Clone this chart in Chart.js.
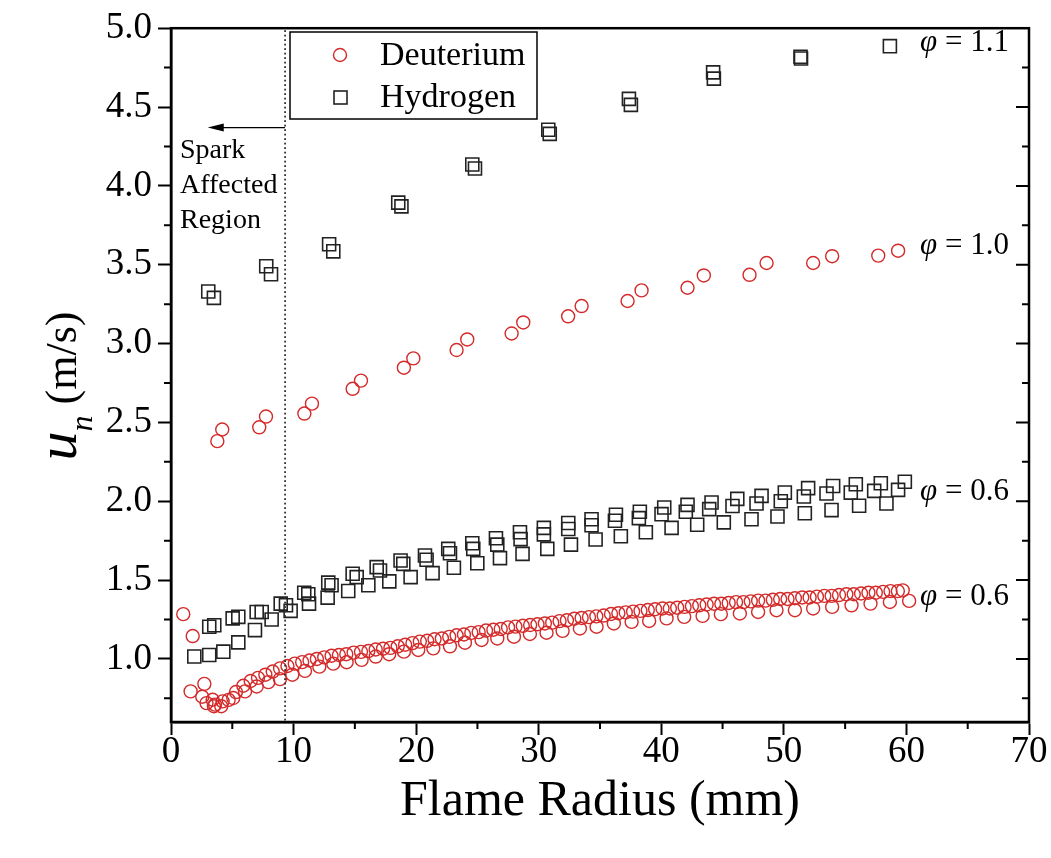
<!DOCTYPE html>
<html>
<head>
<meta charset="utf-8">
<title>Flame speed vs flame radius</title>
<script src="https://cdn.jsdelivr.net/npm/chart.js@4.4.0/dist/chart.umd.min.js"></script>
<style>
  body { margin: 0; background: #fff; }
  canvas { display: block; }
</style>
</head>
<body>
<canvas id="chart" width="1051" height="858"></canvas>
<script>
// axis ticks
var xTicks = [0, 10, 20, 30, 40, 50, 60, 70];
var yTicks = [1.0, 1.5, 2.0, 2.5, 3.0, 3.5, 4.0, 4.5, 5.0];

// Hydrogen, phi = 1.1
var h11X = [3.04, 3.5, 7.77, 8.16, 12.9, 13.24, 18.54, 18.8, 24.58, 24.8, 30.78, 30.9, 37.36, 37.52, 44.23, 44.29, 51.36, 51.4, 58.65];
var h11Y = [3.33, 3.29, 3.49, 3.44, 3.63, 3.585, 3.894, 3.87, 4.136, 4.11, 4.356, 4.33, 4.552, 4.514, 4.72, 4.68, 4.819, 4.808, 4.886];

// Deuterium, phi = 1.0
var d10X = [3.78, 4.18, 7.2, 7.75, 10.88, 11.5, 14.82, 15.5, 19.0, 19.77, 23.3, 24.17, 27.79, 28.74, 32.4, 33.5, 37.25, 38.39, 42.14, 43.47, 47.2, 48.59, 52.39, 53.94, 57.7, 59.32];
var d10Y = [2.381, 2.455, 2.469, 2.537, 2.556, 2.619, 2.713, 2.765, 2.847, 2.906, 2.959, 3.026, 3.064, 3.134, 3.173, 3.238, 3.27, 3.337, 3.354, 3.432, 3.436, 3.511, 3.511, 3.554, 3.558, 3.589];

// Hydrogen, phi = 0.6 (lower run)
var h06aX = [1.9, 3.12, 4.27, 5.49, 6.85, 8.21, 9.76, 11.26, 12.78, 14.46, 16.1, 17.81, 19.55, 21.34, 23.08, 24.99, 26.84, 28.68, 30.7, 32.63, 34.64, 36.7, 38.74, 40.84, 42.93, 45.1, 47.36, 49.48, 51.71, 53.89, 56.14, 58.37];
var h06aY = [1.015, 1.025, 1.046, 1.105, 1.183, 1.25, 1.305, 1.351, 1.389, 1.431, 1.467, 1.492, 1.519, 1.544, 1.578, 1.607, 1.639, 1.666, 1.698, 1.725, 1.757, 1.778, 1.803, 1.831, 1.851, 1.866, 1.886, 1.903, 1.924, 1.944, 1.971, 1.986];
// Hydrogen, phi = 0.6 (upper runs)
var h06bX = [3.12, 5.03, 6.99, 8.95, 10.87, 12.83, 14.82, 16.78, 18.73, 20.72, 22.62, 24.58, 26.51, 28.47, 30.42, 32.41, 34.31, 36.3, 38.25, 40.24, 42.14, 44.1, 46.2, 48.18, 50.08, 51.98, 54.02, 55.87, 57.91, 59.87];
var h06bY = [1.204, 1.257, 1.298, 1.351, 1.42, 1.484, 1.54, 1.582, 1.624, 1.656, 1.698, 1.734, 1.765, 1.803, 1.831, 1.862, 1.886, 1.914, 1.933, 1.96, 1.977, 1.992, 2.015, 2.034, 2.055, 2.083, 2.097, 2.108, 2.114, 2.124];
var h06cX = [3.53, 5.49, 7.4, 9.38, 11.2, 13.1, 15.15, 17.05, 18.95, 20.85, 22.76, 24.66, 26.62, 28.52, 30.42, 32.41, 34.31, 36.22, 38.17, 40.02, 42.0, 43.91, 45.81, 47.77, 49.75, 51.63, 53.48, 55.46, 57.37, 59.32];
var h06cY = [1.214, 1.267, 1.298, 1.34, 1.41, 1.467, 1.519, 1.561, 1.603, 1.629, 1.67, 1.698, 1.725, 1.76, 1.79, 1.824, 1.848, 1.876, 1.893, 1.918, 1.933, 1.95, 1.97, 1.986, 2.0, 2.03, 2.049, 2.055, 2.066, 2.072];

// Deuterium, phi = 0.6 (early points + lower run)
var d06aX = [1.0, 1.77, 1.6, 2.55, 2.72, 3.4, 3.59, 4.21, 5.08, 6.04, 6.99, 7.94, 8.89, 9.9, 10.93, 12.1, 13.24, 14.33, 15.55, 16.7, 17.8, 19.0, 20.17, 21.4, 22.76, 23.98, 25.34, 26.62, 27.98, 29.28, 30.64, 31.95, 33.36, 34.72, 36.13, 37.58, 39.01, 40.43, 41.87, 43.37, 44.86, 46.41, 47.9, 49.4, 50.9, 52.39, 53.94, 55.52, 57.07, 58.65, 60.22];
var d06aY = [1.284, 1.145, 0.794, 0.76, 0.842, 0.741, 0.71, 0.731, 0.752, 0.794, 0.825, 0.853, 0.872, 0.9, 0.924, 0.951, 0.97, 0.979, 0.994, 1.015, 1.03, 1.046, 1.057, 1.067, 1.08, 1.103, 1.12, 1.13, 1.141, 1.158, 1.166, 1.178, 1.193, 1.204, 1.225, 1.235, 1.241, 1.257, 1.267, 1.273, 1.284, 1.288, 1.298, 1.309, 1.309, 1.32, 1.33, 1.34, 1.351, 1.361, 1.368];
// Deuterium, phi = 0.6 (dense upper run)
var d06bX = [2.9, 3.5, 4.1, 4.7, 5.3, 5.9, 6.5, 7.1, 7.7, 8.3, 8.9, 9.5, 10.1, 10.7, 11.3, 11.9, 12.5, 13.1, 13.7, 14.3, 14.9, 15.5, 16.1, 16.7, 17.3, 17.9, 18.5, 19.1, 19.7, 20.3, 20.9, 21.5, 22.1, 22.7, 23.3, 23.9, 24.5, 25.1, 25.7, 26.3, 26.9, 27.5, 28.1, 28.7, 29.3, 29.9, 30.5, 31.1, 31.7, 32.3, 32.9, 33.5, 34.1, 34.7, 35.3, 35.9, 36.5, 37.1, 37.7, 38.3, 38.9, 39.5, 40.1, 40.7, 41.3, 41.9, 42.5, 43.1, 43.7, 44.3, 44.9, 45.5, 46.1, 46.7, 47.3, 47.9, 48.5, 49.1, 49.7, 50.3, 50.9, 51.5, 52.1, 52.7, 53.3, 53.9, 54.5, 55.1, 55.7, 56.3, 56.9, 57.5, 58.1, 58.7, 59.3, 59.7];
var d06bY = [0.72, 0.70, 0.70, 0.74, 0.79, 0.83, 0.86, 0.88, 0.90, 0.92, 0.94, 0.955, 0.97, 0.98, 0.99, 1.0, 1.01, 1.02, 1.025, 1.03, 1.04, 1.045, 1.05, 1.06, 1.065, 1.07, 1.08, 1.09, 1.1, 1.11, 1.115, 1.125, 1.13, 1.14, 1.15, 1.155, 1.165, 1.17, 1.18, 1.185, 1.19, 1.2, 1.205, 1.21, 1.215, 1.22, 1.225, 1.23, 1.24, 1.245, 1.255, 1.26, 1.265, 1.27, 1.275, 1.285, 1.29, 1.295, 1.3, 1.305, 1.31, 1.315, 1.32, 1.32, 1.325, 1.33, 1.335, 1.34, 1.345, 1.35, 1.35, 1.355, 1.36, 1.36, 1.365, 1.37, 1.37, 1.375, 1.38, 1.38, 1.385, 1.39, 1.39, 1.395, 1.4, 1.4, 1.405, 1.41, 1.41, 1.415, 1.42, 1.42, 1.425, 1.43, 1.43, 1.435];

var sparkX = 9.3;
var red = '#d42a2a';
var dark = '#222222';
var serif = '"Liberation Serif", "Times New Roman", serif';

function pts(xs, ys) {
    var out = [];
    for (var i = 0; i < xs.length; i++) out.push({ x: xs[i], y: ys[i] });
    return out;
}

function deut(label, xs, ys) {
    return { label: label, data: pts(xs, ys), pointStyle: 'circle', pointRadius: 6.5,
             borderColor: red, backgroundColor: 'rgba(0,0,0,0)', borderWidth: 1.4 };
}
function hyd(label, xs, ys) {
    return { label: label, data: pts(xs, ys), pointStyle: 'rect', pointRadius: 9.2,
             borderColor: dark, backgroundColor: 'rgba(0,0,0,0)', borderWidth: 1.6 };
}

// frame, minor ticks, annotations, legend and axis titles
var extras = {
    id: 'extras',
    afterDraw: function (chart) {
        var ctx = chart.ctx, a = chart.chartArea;
        var xs = chart.scales.x, ys = chart.scales.y;
        ctx.save();
        ctx.strokeStyle = '#000';
        ctx.lineWidth = 2.5;
        ctx.strokeRect(a.left, a.top, a.right - a.left, a.bottom - a.top);

        ctx.lineWidth = 2;
        ctx.beginPath();
        for (var v = 0.75; v < 5; v += 0.5) {
            var py = ys.getPixelForValue(v);
            ctx.moveTo(a.left, py); ctx.lineTo(a.left - 7, py);
        }
        for (var v2 = 0.75; v2 < 5; v2 += 0.25) {
            var py2 = ys.getPixelForValue(v2);
            var major = Math.abs(v2 * 2 - Math.round(v2 * 2)) < 1e-6;
            ctx.moveTo(a.right, py2); ctx.lineTo(a.right - (major ? 13 : 7), py2);
        }
        for (var u = 5; u < 70; u += 10) {
            var px = xs.getPixelForValue(u);
            ctx.moveTo(px, a.bottom); ctx.lineTo(px, a.bottom + 7);
        }
        ctx.stroke();

        // spark region marker
        var sx = xs.getPixelForValue(sparkX);
        ctx.fillStyle = '#333';
        for (var dy = a.top + 2; dy < a.bottom; dy += 4.5) {
            ctx.fillRect(sx - 0.8, dy, 1.8, 1.8);
        }
        var ay = ys.getPixelForValue(4.37);
        var ax = xs.getPixelForValue(3.0);
        ctx.lineWidth = 1.3;
        ctx.strokeStyle = '#000';
        ctx.beginPath(); ctx.moveTo(sx, ay); ctx.lineTo(ax + 10, ay); ctx.stroke();
        ctx.fillStyle = '#000';
        ctx.beginPath(); ctx.moveTo(ax, ay); ctx.lineTo(ax + 16, ay - 4); ctx.lineTo(ax + 16, ay + 4); ctx.closePath(); ctx.fill();

        ctx.font = '28px ' + serif;
        ctx.textAlign = 'left';
        ctx.textBaseline = 'middle';
        ctx.fillText('Spark', 180, 151);
        ctx.fillText('Affected', 180, 186);
        ctx.fillText('Region', 180, 221);

        // legend
        ctx.lineWidth = 1.5;
        ctx.strokeStyle = '#000';
        ctx.strokeRect(290, 32, 247, 87);
        ctx.strokeStyle = red;
        ctx.lineWidth = 1.4;
        ctx.beginPath(); ctx.arc(340, 55, 6.5, 0, Math.PI * 2); ctx.stroke();
        ctx.strokeStyle = dark;
        ctx.lineWidth = 1.6;
        ctx.strokeRect(334, 91, 13, 13);
        ctx.font = '34px ' + serif;
        ctx.fillStyle = '#000';
        ctx.fillText('Deuterium', 380, 56);
        ctx.fillText('Hydrogen', 380, 98);

        // phi labels
        function phi(txt, x, y) {
            ctx.font = 'italic 31px ' + serif;
            ctx.fillText('φ', x, y);
            var w = ctx.measureText('φ').width;
            ctx.font = '31px ' + serif;
            ctx.fillText(' = ' + txt, x + w, y);
        }
        phi('1.1', 920, 43);
        phi('1.0', 920, 246);
        phi('0.6', 920, 492);
        phi('0.6', 920, 597);

        // x title
        ctx.font = '50px ' + serif;
        ctx.textAlign = 'center';
        ctx.fillText('Flame Radius (mm)', (a.left + a.right) / 2, 802);

        // y title, rotated
        ctx.translate(62, 386);
        ctx.rotate(-Math.PI / 2);
        ctx.textAlign = 'left';
        ctx.textBaseline = 'alphabetic';
        ctx.font = 'italic 58px ' + serif;
        var wu = ctx.measureText('u').width;
        ctx.font = 'italic 32px ' + serif;
        var wn = ctx.measureText('n').width;
        ctx.font = '44px ' + serif;
        var wr = ctx.measureText(' (m/s)').width;
        var x0 = -(wu + wn + wr) / 2;
        ctx.font = 'italic 58px ' + serif;
        ctx.fillText('u', x0, 14);
        ctx.font = 'italic 32px ' + serif;
        ctx.fillText('n', x0 + wu, 30);
        ctx.font = '44px ' + serif;
        ctx.fillText(' (m/s)', x0 + wu + wn, 14);
        ctx.restore();
    }
};

new Chart(document.getElementById('chart'), {
    type: 'scatter',
    data: {
        datasets: [
            hyd('Hydrogen φ=1.1', h11X, h11Y),
            hyd('Hydrogen φ=0.6', h06aX, h06aY),
            hyd('Hydrogen φ=0.6 b', h06bX, h06bY),
            hyd('Hydrogen φ=0.6 c', h06cX, h06cY),
            deut('Deuterium φ=1.0', d10X, d10Y),
            deut('Deuterium φ=0.6', d06aX, d06aY),
            deut('Deuterium φ=0.6 b', d06bX, d06bY)
        ]
    },
    options: {
        responsive: false,
        devicePixelRatio: 1,
        animation: false,
        layout: { padding: { left: 0, right: 22, top: 25, bottom: 0 } },
        plugins: { legend: { display: false }, tooltip: { enabled: false } },
        scales: {
            x: {
                type: 'linear', min: 0, max: 70,
                afterBuildTicks: function (s) { s.ticks = xTicks.map(function (v) { return { value: v }; }); },
                afterFit: function (s) { s.height = 136; },
                grid: { drawOnChartArea: false, drawTicks: true, tickLength: 13, tickWidth: 2, tickColor: '#000' },
                border: { display: true, color: '#000', width: 2.5 },
                ticks: { color: '#000', padding: -5, maxRotation: 0, font: { family: serif, size: 37 } }
            },
            y: {
                type: 'linear', min: 0.6, max: 5.0,
                afterBuildTicks: function (s) { s.ticks = yTicks.map(function (v) { return { value: v }; }); },
                afterFit: function (s) { s.width = 171; },
                grid: { drawOnChartArea: false, drawTicks: true, tickLength: 13, tickWidth: 2, tickColor: '#000' },
                border: { display: true, color: '#000', width: 2.5 },
                ticks: { color: '#000', padding: 6, font: { family: serif, size: 37 },
                         callback: function (v) { return v.toFixed(1); } }
            }
        }
    },
    plugins: [extras]
});
</script>
</body>
</html>
